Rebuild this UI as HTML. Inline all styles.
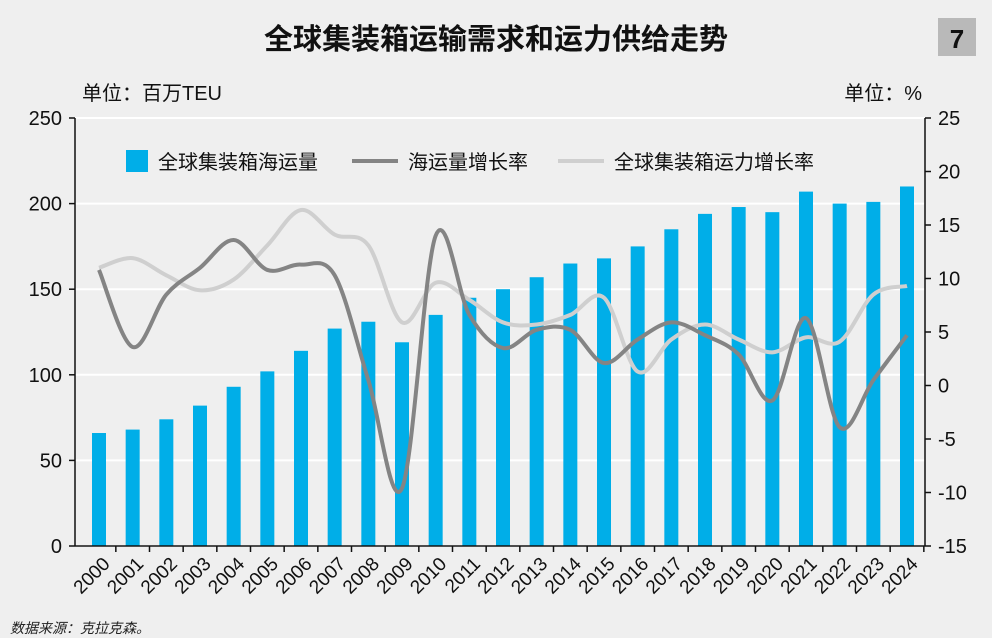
<!DOCTYPE html>
<html><head><meta charset="utf-8">
<style>
body{margin:0;background:#efefef;font-family:"Liberation Sans","Noto Sans CJK SC",sans-serif;}
#wrap{position:relative;width:992px;height:638px;background:#efefef;overflow:hidden;}
</style></head>
<body>
<div id="wrap">
<svg id="chart" width="992" height="638"></svg>
</div>
<script>
const years=["2000","2001","2002","2003","2004","2005","2006","2007","2008","2009","2010","2011","2012","2013","2014","2015","2016","2017","2018","2019","2020","2021","2022","2023","2024"];
const volume=[66,68,74,82,93,102,114,127,131,119,135,145,150,157,165,168,175,185,194,198,195,207,200,201,210];
const demandGrowth=[10.8,3.6,8.5,11,13.6,10.8,11.3,10.3,0.5,-9.6,14.0,6.6,3.5,5.2,5.2,2.1,4.3,5.9,4.7,2.9,-1.4,6.3,-3.9,0.5,4.7];
const capacityGrowth=[11,11.9,10.3,8.9,9.9,13.1,16.4,14.1,13.1,5.9,9.6,8,5.9,5.7,6.6,8.2,1.3,4.3,5.7,4.3,3.1,4.5,4.1,8.5,9.3];
const leftTicks=[0,50,100,150,200,250];
const rightTicks=[-15,-10,-5,0,5,10,15,20,25];

const NS="http://www.w3.org/2000/svg";
const svg=document.getElementById('chart');
const X0=75,X1=925,Y0=546,Y1=118;
const step=(907-99)/24;
const xs=i=>99+i*step;
const yL=v=>Y0-(v-0)/250*(Y0-Y1);
const yR=v=>Y0-(v+15)/40*(Y0-Y1);
function mk(tag,attrs,parent){const e=document.createElementNS(NS,tag);for(const k in attrs)e.setAttribute(k,attrs[k]);(parent||svg).appendChild(e);return e;}
function txt(s,attrs){const t=mk('text',attrs);t.textContent=s;return t;}

let t;
t=txt("全球集装箱运输需求和运力供给走势",{x:496,y:49,'text-anchor':'middle','font-size':29,'font-weight':'bold',fill:'#111'});


let r=mk('rect',{x:938,y:18,width:38,height:38,fill:'#b9b9b9'});


t=txt("7",{x:957,y:48,'text-anchor':'middle','font-size':26,'font-weight':'bold',fill:'#111'});


t=txt("单位：百万TEU",{x:82,y:100,'font-size':20,fill:'#111'});


t=txt("单位：%",{x:922,y:100,'text-anchor':'end','font-size':20,fill:'#111'});



leftTicks.forEach(v=>{
  const g=mk('line',{x1:X0,x2:X1,y1:yL(v),y2:yL(v),stroke:'#fff','stroke-width':2});
  
  
  const l=txt(String(v),{x:62,y:yL(v)+7,'text-anchor':'end','font-size':20,fill:'#111'});
  
  
  const tk=mk('line',{x1:X0-6,x2:X0,y1:yL(v),y2:yL(v),stroke:'#111','stroke-width':1.5});
  
  
});
rightTicks.forEach(v=>{
  const l=txt(String(v),{x:938,y:yR(v)+7,'font-size':20,fill:'#111'});
  
  
  const tk=mk('line',{x1:X1,x2:X1+6,y1:yR(v),y2:yR(v),stroke:'#111','stroke-width':1.5});
  
  
});

volume.forEach((v,i)=>{
  const b=mk('rect',{x:xs(i)-7,y:yL(v),width:14,height:Y0-yL(v),fill:'#00aee8'});
  
  
});

function smooth(vals){
  const p=vals.map((v,i)=>[xs(i),yR(v)]);
  let d=`M${p[0][0]},${p[0][1]}`;
  for(let i=0;i<p.length-1;i++){
    const p0=p[i-1]||p[i],p1=p[i],p2=p[i+1],p3=p[i+2]||p[i+1];
    const c1=[p1[0]+(p2[0]-p0[0])/6,p1[1]+(p2[1]-p0[1])/6];
    const c2=[p2[0]-(p3[0]-p1[0])/6,p2[1]-(p3[1]-p1[1])/6];
    d+=` C${c1[0]},${c1[1]} ${c2[0]},${c2[1]} ${p2[0]},${p2[1]}`;
  }
  return d;
}
let ln=mk('path',{d:smooth(capacityGrowth),fill:'none',stroke:'#cfcfcf','stroke-width':4});


ln=mk('path',{d:smooth(demandGrowth),fill:'none',stroke:'#848484','stroke-width':4});



let ax=mk('line',{x1:X0,x2:X0,y1:Y1,y2:Y0,stroke:'#111','stroke-width':1.5});


ax=mk('line',{x1:X1,x2:X1,y1:Y1,y2:Y0,stroke:'#111','stroke-width':1.5});


ax=mk('line',{x1:X0,x2:X1,y1:Y0,y2:Y0,stroke:'#111','stroke-width':1.5});


years.forEach((y,i)=>{
  const xb=xs(i)+step/2;
  const tk=mk('line',{x1:xb,x2:xb,y1:Y0,y2:Y0+6,stroke:'#111','stroke-width':1.5});
  
  
  const l=txt(y,{x:xs(i)+12,y:565,'text-anchor':'end','font-size':19,fill:'#111',transform:`rotate(-45 ${xs(i)+12} 565)`});
  
  
});

let lg=mk('rect',{x:126,y:150,width:22,height:22,fill:'#00aee8'});


t=txt("全球集装箱海运量",{x:158,y:169,'font-size':20,fill:'#111'});


lg=mk('line',{x1:352,x2:398,y1:161,y2:161,stroke:'#848484','stroke-width':4});


t=txt("海运量增长率",{x:408,y:169,'font-size':20,fill:'#111'});


lg=mk('line',{x1:558,x2:604,y1:161,y2:161,stroke:'#cfcfcf','stroke-width':4});


t=txt("全球集装箱运力增长率",{x:614,y:169,'font-size':20,fill:'#111'});



t=txt("数据来源：克拉克森。",{x:10,y:633,'font-size':14,'font-style':'italic',fill:'#222'});


</script>
</body></html>
